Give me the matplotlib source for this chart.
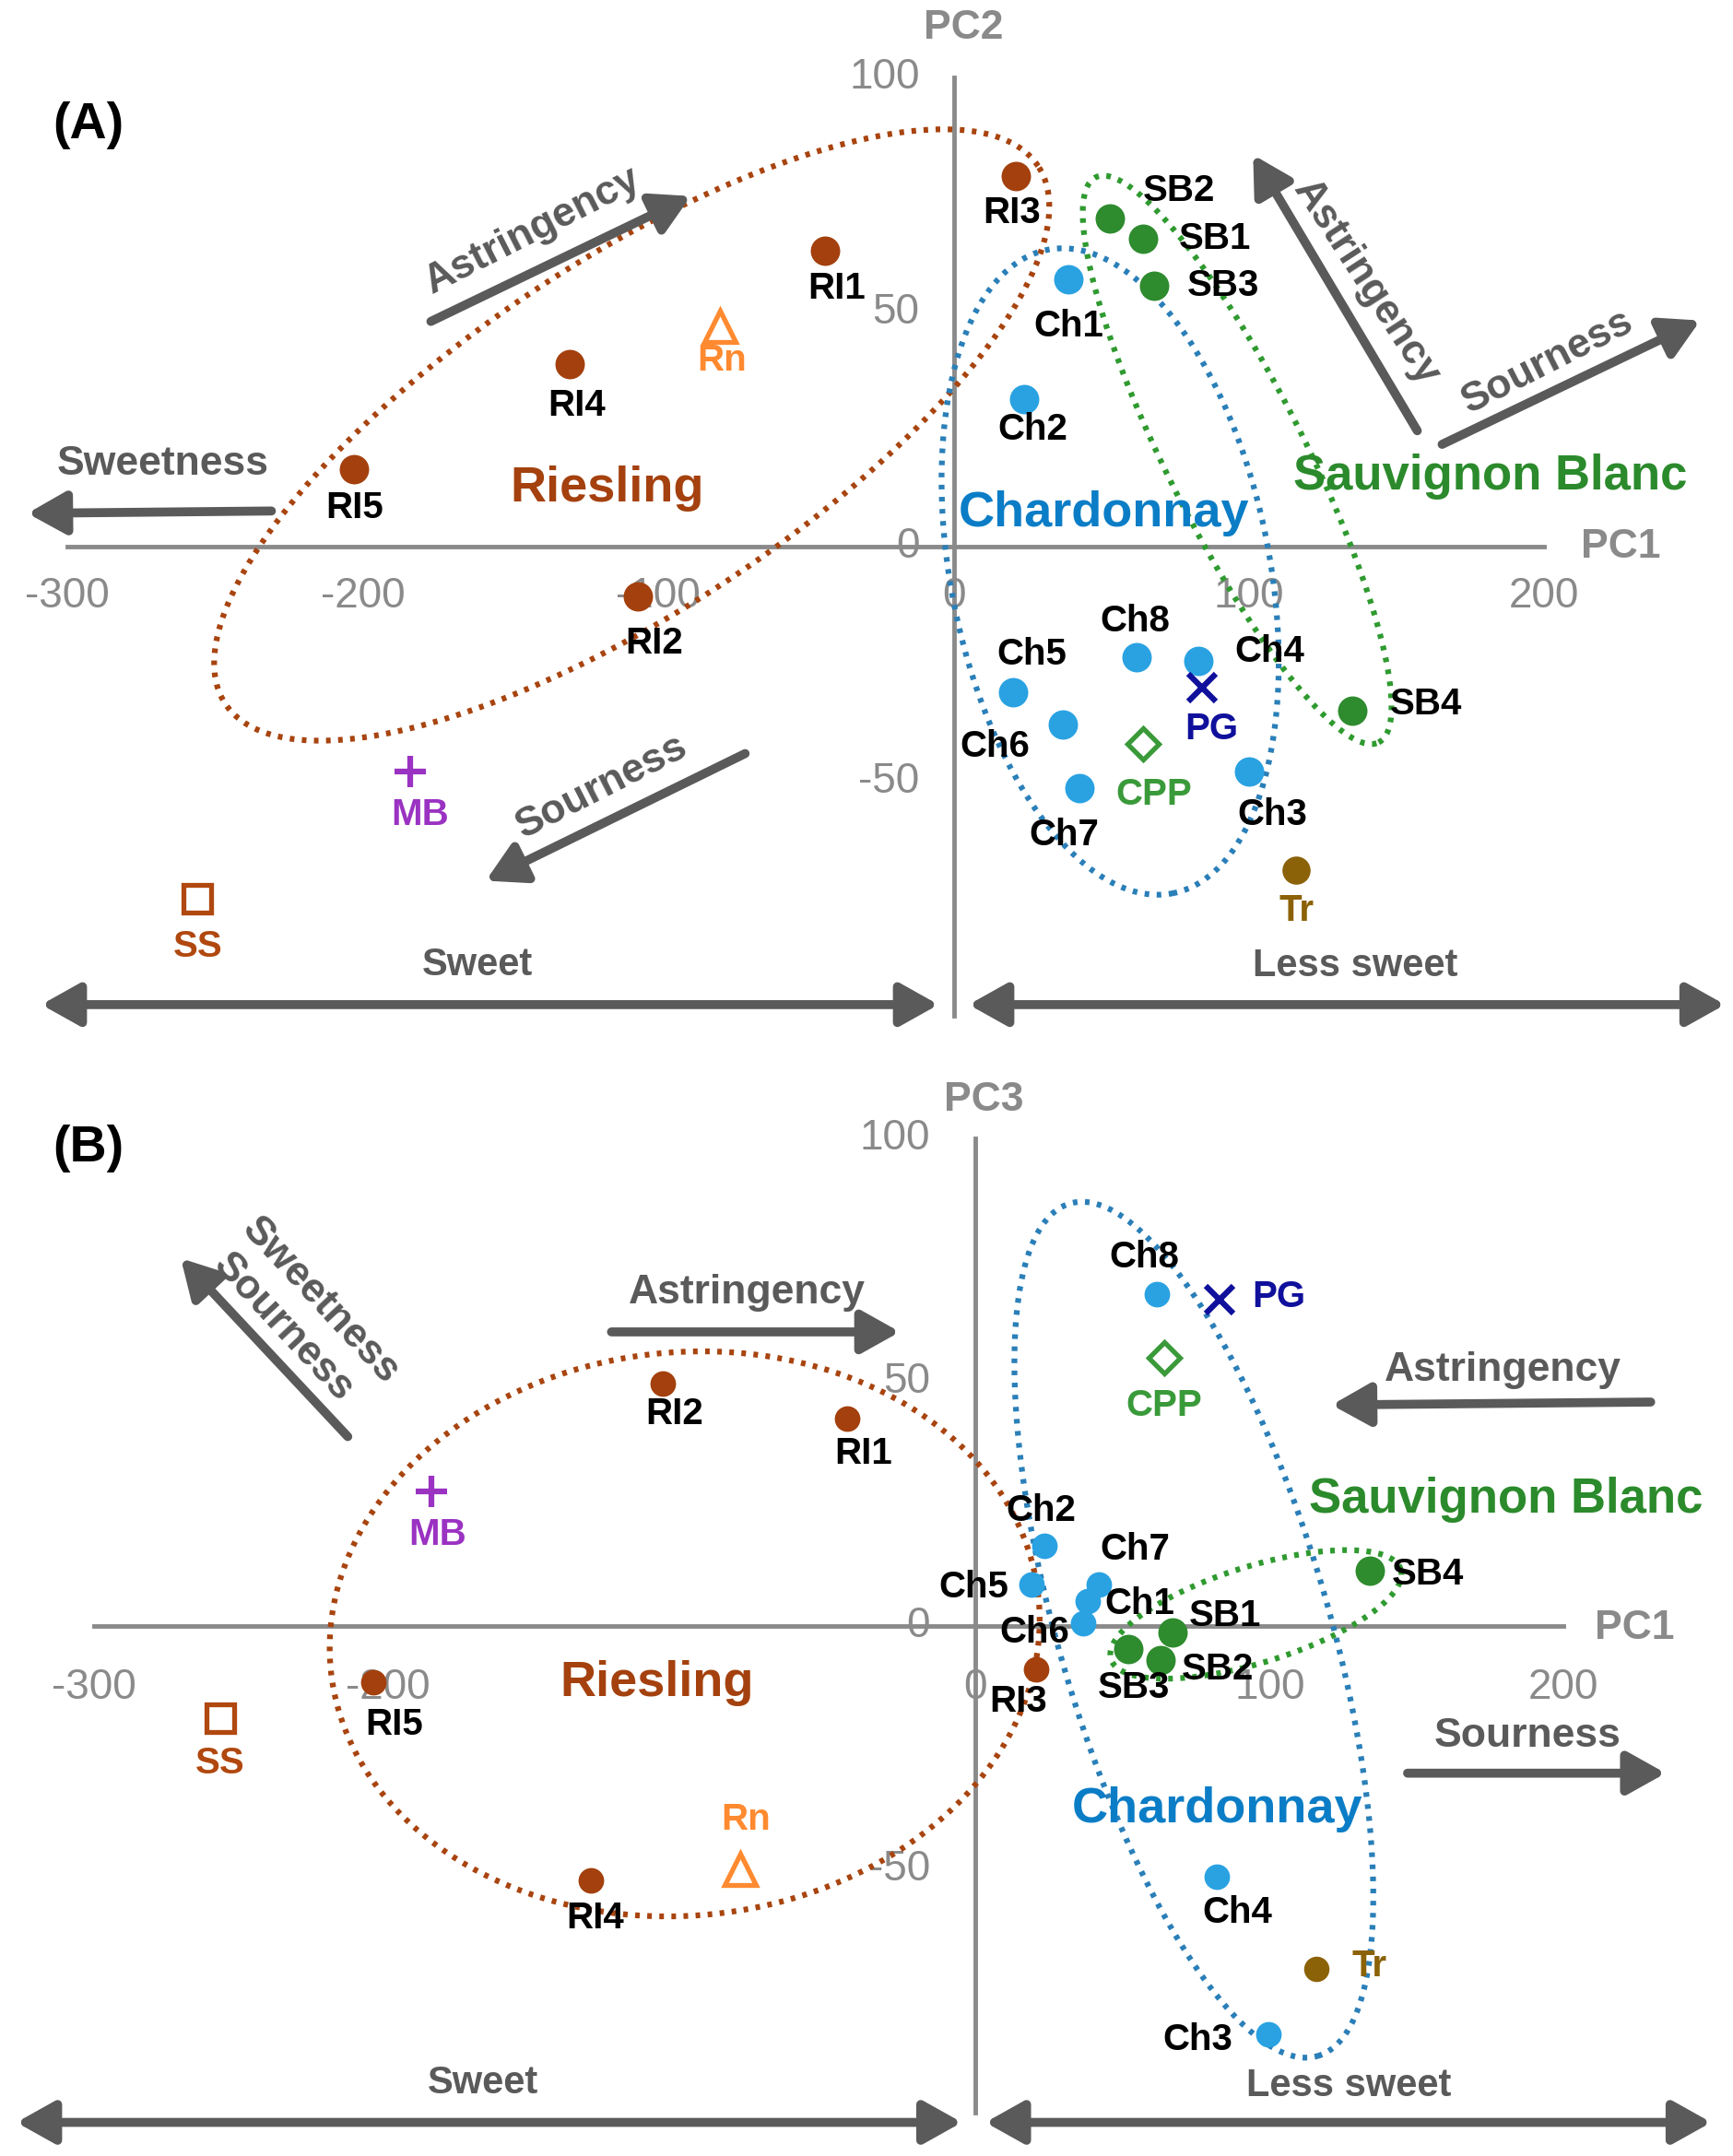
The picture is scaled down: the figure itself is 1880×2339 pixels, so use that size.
import numpy as np
import matplotlib.pyplot as plt

plt.rcParams['font.family'] = ['Liberation Sans', 'DejaVu Sans']

# samples and PCA scores
samples = ['RI1', 'RI2', 'RI3', 'RI4', 'RI5',
           'Ch1', 'Ch2', 'Ch3', 'Ch4', 'Ch5', 'Ch6', 'Ch7', 'Ch8',
           'SB1', 'SB2', 'SB3', 'SB4',
           'Rn', 'MB', 'SS', 'PG', 'CPP', 'Tr']
kinds = ['RI'] * 5 + ['Ch'] * 8 + ['SB'] * 4 + ['Rn', 'MB', 'SS', 'PG', 'CPP', 'Tr']

pc1_a = [-43.5, -107, 21, -130, -203,
         39, 24, 100, 83, 20, 37, 42.5, 62,
         64, 53, 68, 135,
         -79, -184, -256, 84, 64, 116]
pc2 = [63, -10.6, 79, 39, 16.5,
       57, 31.5, -48, -24.4, -31, -38, -51.5, -23.5,
       65.6, 70, 55.6, -35,
       47, -48, -75, -30, -42, -69]

pc1_b = [-43.7, -106.6, 20.7, -131, -205,
         38, 23.5, 99.5, 82, 19, 36.6, 42, 61.5,
         67, 63, 52, 134,
         -80, -185, -257, 83, 64, 116]
pc3 = [42.5, 49.6, -9, -52.4, -11.6,
       5, 16.4, -84, -51.6, 8.5, 0.5, 8.5, 68,
       -1.4, -7, -4.8, 11.3,
       -50, 27.5, -19, 67, 55, -70.5]

# label offsets from the marker (px, y up)
offs_a = [(8, -27), (12, -34), (-3, -27), (5, -30), (0, -28),
          (0, -34), (6, -22), (17, -31), (51, 7), (14, 27), (-49, -16), (-11, -34), (-1, 26),
          (52, 0), (50, 20), (50, 0), (53, 5),
          (1, -25), (7, -31), (0, -35), (7, -30), (8, -37), (0, -29)]
offs_b = [(12, -25), (9, -22), (-13, -23), (3, -27), (15, -31),
          (38, -2), (-3, 25), (-51, -4), (15, -26), (-42, -2), (-35, -7), (26, 25), (-9, 27),
          (38, 12), (41, -7), (4, -28), (42, -3),
          (4, 36), (4, -31), (0, -33), (43, 2), (0, -35), (38, 2)]

x_ticks_a = [-300, -200, -100, 0, 100, 200]
x_ticks_b = [-300, -200, 0, 100, 200]   # -100 sits under the Riesling label
y_ticks = [100, 50, 0, -50]

BROWN = '#A3400D'
BLUE = '#2AA2E2'
GREEN = '#2E8B2E'
ARROW = '#5A5A5A'
AXIS = '#8A8A8A'

style = {
    'RI': dict(marker='o', color=BROWN, ms=23, mfc=BROWN, mew=0, tc='black'),
    'Ch': dict(marker='o', color=BLUE, ms=23, mfc=BLUE, mew=0, tc='black'),
    'SB': dict(marker='o', color=GREEN, ms=23, mfc=GREEN, mew=0, tc='black'),
    'Rn': dict(marker='^', color='#FF8A30', ms=25, mfc='none', mew=3.8, tc='#FF8A30'),
    'MB': dict(marker='+', color='#9A32C2', ms=25, mfc='none', mew=4.5, tc='#9A32C2'),
    'SS': dict(marker='s', color='#B0480F', ms=21, mfc='none', mew=3.8, tc='#B0480F'),
    'PG': dict(marker='x', color='#10109C', ms=21, mfc='none', mew=4.5, tc='#10109C'),
    'CPP': dict(marker='D', color='#3A9A3A', ms=17, mfc='none', mew=3.8, tc='#3A9A3A'),
    'Tr': dict(marker='o', color='#8B6208', ms=22, mfc='#8B6208', mew=0, tc='#8B6208'),
}

# group outlines: centre, semi-axes (x units), screen angle, colour
rings_a = [(-109, 23.8, 165, 59, 33.5, '#A8440F'),
           (53, -5.3, 111, 54, -79, '#2A7FB8'),
           (96, 18.5, 107, 23.4, -63.4, '#2F9A2F')]
rings_b = [(-99, -1.7, 121, 95.8, 6, '#A8440F'),
           (74.2, -0.85, 151, 46, -73.8, '#2A7FB8'),
           (95.3, 2.3, 51.6, 16.4, 17.2, '#2F9A2F')]

# direction arrows: start, end, double-headed
arrows_a = [((-177, 48), (-89, 74.7), False),
            ((-231, 7.6), (-313.6, 7.1), False),
            ((-70.6, -44.1), (-158.4, -71.2), False),
            ((157, 24.7), (101.4, 83.5), False),
            ((165.4, 21.8), (252.8, 48.2), False),
            ((-308.9, -97.6), (-5.1, -97.6), True),
            ((5.1, -97.6), (261.2, -97.6), True)]
notes_a = [(-142.5, 67.4, 'Astringency', 27, 32),
           (-267.8, 17.6, 'Sweetness', 0, 32),
           (-119.2, -51.2, 'Sourness', 27, 32),
           (139.7, 56.2, 'Astringency', -57, 32),
           (201, 39.4, 'Sourness', 27, 32),
           (-161.2, -89.1, 'Sweet', 0, 30),
           (136, -89.4, 'Less sweet', 0, 30)]

arrows_b = [((-213.6, 38.8), (-270.4, 75.4), False),
            ((-123.9, 60.3), (-25.8, 60.3), False),
            ((229.6, 45.9), (121.1, 45.3), False),
            ((146.9, -30.3), (234.7, -30.3), False),
            ((-326.3, -102), (-4.7, -102), True),
            ((3.3, -102), (250.2, -102), True)]
notes_b = [(-223, 66.6, 'Sweetness', -47, 32),
           (-235.7, 61.2, 'Sourness', -47, 32),
           (-77.9, 68.3, 'Astringency', 0, 32),
           (179.3, 52.4, 'Astringency', 0, 32),
           (187.8, -22.7, 'Sourness', 0, 32),
           (-167.6, -94, 'Sweet', 0, 30),
           (126.8, -94.6, 'Less sweet', 0, 30)]


def ring(ax, cx, cy, a, b, ang, color):
    # ellipse defined in screen angle, so correct for the unequal axis scales
    bb = ax.get_window_extent()
    x0, x1 = ax.get_xlim()
    y0, y1 = ax.get_ylim()
    k = (bb.width / (x1 - x0)) / (bb.height / (y1 - y0))
    t = np.linspace(0, 2 * np.pi, 600)
    th = np.radians(ang)
    u, v = a * np.cos(t), b * np.sin(t)
    x = cx + u * np.cos(th) - v * np.sin(th)
    y = cy + (u * np.sin(th) + v * np.cos(th)) * k
    ax.plot(x, y, color=color, lw=4.5, linestyle=(0, (0.8, 1.3)), zorder=2)


def arrow(ax, start, end, both):
    head = '<|-|>' if both else '-|>'
    ax.annotate('', xy=end, xytext=start, zorder=3,
                arrowprops=dict(arrowstyle=f'{head},head_length=1.25,head_width=0.7',
                                color=ARROW, lw=7, shrinkA=0, shrinkB=0, mutation_scale=20))


def panel(ax, xs, ys, offs, rings, arrows, notes, x_ticks, tick_x_y, tick_y_x, dot_scale):
    ax.axis('off')
    ax.plot([-300, 200], [0, 0], color=AXIS, lw=3.5, zorder=1)
    ax.plot([0, 0], [-100, 100], color=AXIS, lw=3.5, zorder=1)
    for t in x_ticks:
        ax.text(t, tick_x_y, str(t), ha='center', va='center', fontsize=33, color=AXIS, zorder=1)
    for t in y_ticks:
        ax.text(tick_y_x, t, str(t), ha='right', va='center', fontsize=33, color=AXIS, zorder=1)
    for r in rings:
        ring(ax, *r)
    for a in arrows:
        arrow(ax, *a)
    for x, y, s, rot, fs in notes:
        ax.text(x, y, s, rotation=rot, rotation_mode='anchor', ha='center', va='center',
                fontsize=fs, fontweight='bold', color=ARROW, zorder=3)
    for name, kind, x, y, (dx, dy) in zip(samples, kinds, xs, ys, offs):
        st = style[kind]
        ms = st['ms'] * dot_scale.get(kind, 1.0)
        ax.plot(x, y, linestyle='none', marker=st['marker'], color=st['color'],
                markersize=ms, markerfacecolor=st['mfc'], markeredgewidth=st['mew'], zorder=4)
        ax.annotate(name, (x, y), xytext=(dx * 1.08, dy * 1.08), textcoords='offset points',
                    ha='center', va='center', fontsize=29, fontweight='bold', color=st['tc'], zorder=5)


fig = plt.figure(figsize=(18.8, 23.39), dpi=100)
ax_a = fig.add_axes([0, 0.504, 1, 0.496])
ax_a.set_xlim(-322.9, 263.9)
ax_a.set_ylim(-111.4, 116.5)
ax_b = fig.add_axes([0, 0, 1, 0.504])
ax_b.set_xlim(-331.9, 257.6)
ax_b.set_ylim(-108.9, 114.2)

panel(ax_a, pc1_a, pc2, offs_a, rings_a, arrows_a, notes_a, x_ticks_a, -10.6, -11.5, {})
panel(ax_b, pc1_b, pc3, offs_b, rings_b, arrows_b, notes_b, x_ticks_b, -12.7, -15.5,
      {'RI': 0.87, 'Ch': 0.87, 'Tr': 0.9})

# lighter green dots for Sauvignon Blanc in panel B
for line in ax_b.lines:
    if line.get_marker() == 'o' and line.get_color() == GREEN:
        line.set_color('#6AAA58')

# panel titles, axis names, group names
ax_a.text(-293, 89.7, '(A)', fontsize=40, fontweight='bold', ha='center', va='center')
ax_a.text(3.3, 110.6, 'PC2', fontsize=32, fontweight='bold', color=AXIS, ha='center', va='center')
ax_a.text(226, 0, 'PC1', fontsize=32, fontweight='bold', color=AXIS, ha='center', va='center')
ax_a.text(-117.3, 12.4, 'Riesling', fontsize=39, fontweight='bold', color='#A4410E', ha='center', va='center', zorder=3)
ax_a.text(51, 7.1, 'Chardonnay', fontsize=39, fontweight='bold', color='#0B7DC6', ha='center', va='center', zorder=3)
ax_a.text(181.8, 15, 'Sauvignon Blanc', fontsize=38, fontweight='bold', color='#2B8A2B', ha='center', va='center', zorder=3)

ax_b.text(-301.9, 98, '(B)', fontsize=40, fontweight='bold', ha='center', va='center')
ax_b.text(2.8, 107.9, 'PC3', fontsize=32, fontweight='bold', color=AXIS, ha='center', va='center')
ax_b.text(224, -0.6, 'PC1', fontsize=32, fontweight='bold', color=AXIS, ha='center', va='center')
ax_b.text(-108.5, -11.9, 'Riesling', fontsize=39, fontweight='bold', color='#A4410E', ha='center', va='center', zorder=3)
ax_b.text(82.2, -37.7, 'Chardonnay', fontsize=39, fontweight='bold', color='#0B7DC6', ha='center', va='center', zorder=3)
ax_b.text(180.3, 25.8, 'Sauvignon Blanc', fontsize=38, fontweight='bold', color='#2B8A2B', ha='center', va='center', zorder=3)

fig.savefig('out.png', dpi=100, facecolor='white')
